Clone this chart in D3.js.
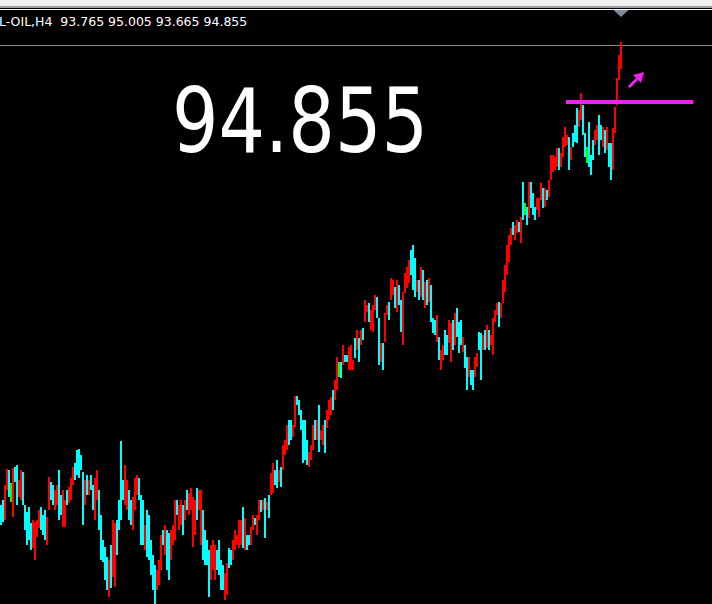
<!DOCTYPE html>
<html>
	<head>
		<meta charset="utf-8">
		<style type="text/css">
			body { margin: 0; background: #000; overflow: hidden; }
			svg  { display: block; }
		</style>
		<title>L-OIL,H4</title>
	</head>
	<body>

		<script src="https://cdn.jsdelivr.net/npm/d3@7"></script>
		<script>

var symbol = "L-OIL,H4";

// H4 bars, oldest first. highs / lows
var highs = [
	71.85, 72.1, 72.85, 73.65, 73.6, 72.95, 73.7, 73.75, 73.85, 73.1,
	73.6, 73.5, 71.85, 71.5, 71.75, 70.95, 71.1, 71.0, 71.1, 71.6,
	71.75, 71.35, 71.6, 71.25, 73.25, 73.0, 72.85, 72.6, 72.85, 73.6,
	72.35, 72.6, 72.1, 72.6, 72.75, 73.2, 73.75, 73.95, 74.6, 74.65,
	74.35, 73.5, 73.1, 73.35, 73.1, 73.35, 72.85, 73.2, 73.6, 72.6,
	71.35, 70.1, 69.75, 69.25, 69.1, 69.85, 71.1, 70.95, 71.1, 72.1,
	75.05, 73.1, 73.85, 73.1, 72.6, 72.1, 72.25, 73.2, 73.35, 73.2,
	72.35, 72.1, 70.85, 71.6, 71.35, 70.1, 69.35, 68.85, 68.6, 69.1,
	70.35, 70.6, 70.85, 70.6, 70.45, 70.6, 70.85, 72.1, 72.1, 71.85,
	72.1, 71.85, 72.1, 72.6, 72.45, 72.7, 72.25, 72.1, 72.7, 72.6,
	72.6, 71.6, 70.6, 70.1, 69.6, 69.85, 70.1, 69.85, 69.6, 70.1,
	69.1, 68.85, 68.45, 68.95, 69.7, 69.6, 70.1, 70.6, 70.35, 71.1,
	71.1, 71.75, 71.2, 70.35, 70.35, 70.75, 71.35, 71.2, 71.35, 72.1,
	72.1, 72.1, 72.2, 72.0, 72.35, 73.45, 73.95, 73.6, 74.1, 73.6,
	73.75, 74.85, 75.1, 75.85, 76.1, 76.1, 75.85, 77.3, 77.3, 77.1,
	76.6, 76.1, 76.1, 75.1, 74.5, 74.85, 75.85, 76.1, 76.1, 76.85,
	75.6, 75.85, 76.1, 76.6, 77.1, 77.25, 77.6, 78.1, 79.25, 79.0,
	79.0, 79.85, 79.35, 79.35, 79.75, 79.85, 79.1, 80.2, 80.6, 80.2,
	80.6, 80.7, 82.1, 81.85, 81.95, 81.6, 81.85, 82.35, 82.25, 81.2,
	79.95, 79.95, 81.45, 81.85, 82.0, 83.2, 83.1, 82.75, 83.1, 82.85,
	82.1, 82.5, 83.45, 83.75, 84.1, 84.6, 84.85, 84.2, 83.1, 83.1,
	83.75, 83.6, 83.0, 83.1, 83.2, 82.85, 81.2, 81.1, 81.35, 80.25,
	79.6, 79.85, 80.6, 80.35, 81.1, 80.95, 81.1, 81.45, 81.7, 81.0,
	81.1, 80.25, 79.85, 79.25, 79.25, 78.6, 78.6, 79.25, 79.45, 80.5,
	80.45, 80.35, 80.6, 80.85, 80.6, 80.35, 81.2, 81.6, 81.95, 82.0,
	81.95, 83.1, 83.85, 84.85, 85.35, 85.7, 86.0, 85.85, 86.1, 86.0,
	86.25, 88.0, 86.95, 86.75, 88.0, 88.0, 87.45, 86.75, 87.2, 87.2,
	87.95, 87.7, 87.7, 87.6, 88.1, 89.35, 89.35, 89.25, 89.7, 89.7,
	89.45, 90.25, 90.75, 90.35, 90.25, 89.75, 90.45, 90.85, 91.7, 91.6,
	92.45, 91.85, 90.45, 89.75, 91.0, 89.35, 90.1, 90.6, 90.85, 91.35,
	90.85, 90.75, 90.6, 90.75, 89.95, 89.95, 90.7, 91.75, 93.2, 94.35, 95.005
];

var lows = [
	70.85, 71.0, 71.1, 72.6, 72.25, 72.0, 71.25, 73.0, 71.85, 72.25,
	72.1, 71.85, 70.6, 69.85, 70.1, 69.6, 69.7, 69.1, 70.25, 70.7,
	70.6, 70.35, 70.1, 69.85, 71.6, 72.1, 71.85, 71.6, 71.85, 71.1,
	71.35, 70.75, 70.75, 71.85, 71.95, 72.1, 72.85, 73.1, 73.35, 73.2,
	73.6, 70.85, 71.85, 72.35, 72.35, 72.6, 71.6, 71.1, 72.1, 70.6,
	69.1, 69.0, 68.1, 67.6, 67.25, 67.7, 68.25, 67.75, 69.35, 70.6,
	71.1, 72.1, 71.85, 71.6, 71.1, 70.85, 70.6, 71.6, 72.35, 72.1,
	69.85, 69.85, 69.6, 69.25, 69.1, 68.35, 67.6, 66.9, 67.6, 67.85,
	68.6, 69.85, 69.35, 68.6, 68.1, 69.1, 69.85, 70.1, 71.35, 70.6,
	70.85, 70.35, 71.1, 71.6, 71.35, 71.6, 69.75, 70.35, 71.1, 71.6,
	69.85, 69.1, 68.85, 68.85, 67.25, 68.1, 68.6, 68.1, 68.6, 68.35,
	67.6, 67.6, 67.1, 67.35, 68.7, 68.85, 69.1, 69.6, 69.85, 69.7,
	69.85, 69.7, 69.6, 69.6, 69.85, 69.85, 70.6, 70.85, 70.35, 71.1,
	71.5, 71.6, 70.2, 71.6, 71.2, 72.35, 72.45, 72.85, 72.7, 73.0,
	72.75, 73.6, 74.35, 74.6, 74.85, 75.1, 75.25, 75.75, 76.85, 76.35,
	75.6, 73.95, 74.1, 73.85, 73.75, 74.1, 74.6, 75.1, 75.1, 74.5,
	75.1, 74.85, 74.45, 75.7, 76.1, 76.35, 76.6, 77.1, 77.6, 78.25,
	78.2, 78.85, 79.0, 79.0, 78.6, 78.6, 78.6, 79.2, 79.6, 79.0,
	79.85, 80.1, 81.0, 81.5, 81.0, 80.6, 80.5, 81.6, 81.2, 78.85,
	79.0, 78.6, 80.0, 81.35, 81.1, 82.1, 82.35, 81.7, 81.5, 81.85,
	80.5, 79.85, 82.45, 82.7, 82.95, 83.35, 82.6, 82.25, 82.5, 82.1,
	82.25, 82.1, 81.7, 81.85, 82.0, 81.0, 80.45, 80.35, 80.0, 79.1,
	78.6, 79.1, 79.35, 79.35, 79.95, 79.0, 79.6, 79.85, 80.25, 79.45,
	79.85, 79.5, 78.7, 77.6, 78.25, 77.85, 77.6, 78.25, 78.75, 79.6,
	78.1, 79.6, 79.6, 79.7, 79.6, 79.85, 79.35, 81.0, 81.35, 80.75,
	81.2, 81.95, 82.5, 83.35, 84.0, 84.85, 85.35, 85.1, 85.45, 85.5,
	84.95, 86.1, 86.35, 85.85, 86.2, 86.7, 86.35, 86.1, 86.6, 86.25,
	87.1, 86.7, 86.75, 87.1, 87.25, 88.1, 88.5, 88.6, 88.75, 88.6,
	88.75, 89.25, 89.75, 89.85, 88.6, 89.1, 89.75, 90.0, 89.95, 90.75,
	91.1, 90.35, 89.25, 88.95, 88.75, 88.35, 89.1, 89.85, 90.1, 89.35,
	90.1, 89.75, 89.45, 89.6, 88.75, 88.1, 88.6, 90.45, 91.85, 93.1, 93.665
];

// u = bar up, d = bar down, n = open == close
var dirs = "dduudnuddu" + "uddddduuuu" + "ddduudduud" + "duuduuuddd" + "ddududduud" +
	"dddduduudd" + "dduudduuud" + "dduddddduu" + "ududduuudu" + "ududuuuudu" +
	"udddduuudd" + "dduudduuuu" + "ududduuduu" + "dududuuddu" + "duuudduudd" +
	"dddduuudud" + "uuduuuduun" + "dudduuudud" + "uduuduuudd" + "uduuduudud" +
	"duuuudddud" + "udududddud" + "uudduududd" + "duddudduud" + "dududuuuud" +
	"uuuuuuduud" + "udnduddduu" + "ududuuuuud" + "uuuududddu" + "uddnddduud" +
	"dududduuuuu";

// last bar open / close, high and low are the last entries above
var lastOpen = 93.765,
	lastClose = 94.855;

// objects on the chart: magenta level and an arrow
var levelPrice = 92.0,
	levelBars = [283, 346.5];
var arrowBar = 318,
	arrowPrice = 93.1;

////-----

var width = 712,
	height = 604,
	n = highs.length,
	barStep = 2;

var colors = { u: "#ff0000", d: "#00ffff", n: "#00ff00" };

var x = d3.scaleLinear()
	.domain([0, n])
	.range([0, n * barStep]);

var y = d3.scaleLinear()
	.domain([66.9, 95.1])
	.range([604, 40]);

var f = d3.format(".3f");

var bars = d3.range(n).map(function(i) {
	return { i: i, high: highs[i], low: lows[i], dir: dirs[i] };
});

var svg = d3.select("body").append("svg")
	.attr("width", width)
	.attr("height", height)
	.style("background", "#000");

// window top edge
svg.append("rect").attr("width", width).attr("height", 6).attr("fill", "#f0f0f0");
svg.append("rect").attr("y", 6).attr("width", width).attr("height", 2).attr("fill", "#a0a0a0");
svg.append("rect").attr("y", 9).attr("width", width).attr("height", 1).attr("fill", "#ffffff");

// bid line at the last close
svg.append("line")
	.attr("x1", 0).attr("x2", width)
	.attr("y1", Math.round(y(lastClose)) + 0.5)
	.attr("y2", Math.round(y(lastClose)) + 0.5)
	.attr("stroke", "#8c8c8c")
	.attr("stroke-width", 1);

// the bars
svg.append("g")
	.attr("shape-rendering", "crispEdges")
  .selectAll("rect")
	.data(bars)
	.enter().append("rect")
	.attr("x", function(d) { return x(d.i); })
	.attr("width", function(d) { return x(d.i + 1) - x(d.i); })
	.attr("y", function(d) { return Math.round(y(d.high)); })
	.attr("height", function(d) { return Math.max(1, Math.round(y(d.low)) - Math.round(y(d.high))); })
	.attr("fill", function(d) { return colors[d.dir]; });

// chart shift marker
var cx = x(n - 1) + barStep / 2;
svg.append("path")
	.attr("d", "M" + (cx - 7.5) + ",10L" + (cx + 7.5) + ",10L" + cx + ",17Z")
	.attr("fill", "#7d8c9c");

// magenta level
svg.append("line")
	.attr("x1", x(levelBars[0])).attr("x2", x(levelBars[1]))
	.attr("y1", y(levelPrice)).attr("y2", y(levelPrice))
	.attr("stroke", "#f020f0")
	.attr("stroke-width", 4)
	.attr("shape-rendering", "crispEdges");

// arrow object
var arrow = svg.append("g")
	.attr("transform", "translate(" + x(arrowBar) + "," + y(arrowPrice) + ")");
arrow.append("line")
	.attr("x1", -7).attr("y1", 7).attr("x2", 1).attr("y2", -1)
	.attr("stroke", "#f020f0")
	.attr("stroke-width", 3);
arrow.append("path")
	.attr("d", "M8,-8L-3,-5L5,3Z")
	.attr("fill", "#f020f0");

// header line
svg.append("text")
	.attr("x", -1)
	.attr("y", 26)
	.style("white-space", "pre")
	.attr("font-family", "'DejaVu Sans', sans-serif")
	.attr("font-size", "12.5px")
	.attr("fill", "#ffffff")
	.text(symbol + "  " + [lastOpen, highs[n - 1], lows[n - 1], lastClose].map(f).join(" "));

// big price label
svg.append("text")
	.attr("x", 172)
	.attr("y", 152)
	.attr("font-family", "'Comic Sans MS', 'DejaVu Sans', sans-serif")
	.attr("font-size", "89px")
	.attr("textLength", 256)
	.attr("lengthAdjust", "spacingAndGlyphs")
	.attr("fill", "#ffffff")
	.text(f(lastClose));

		</script>
	</body>
</html>
